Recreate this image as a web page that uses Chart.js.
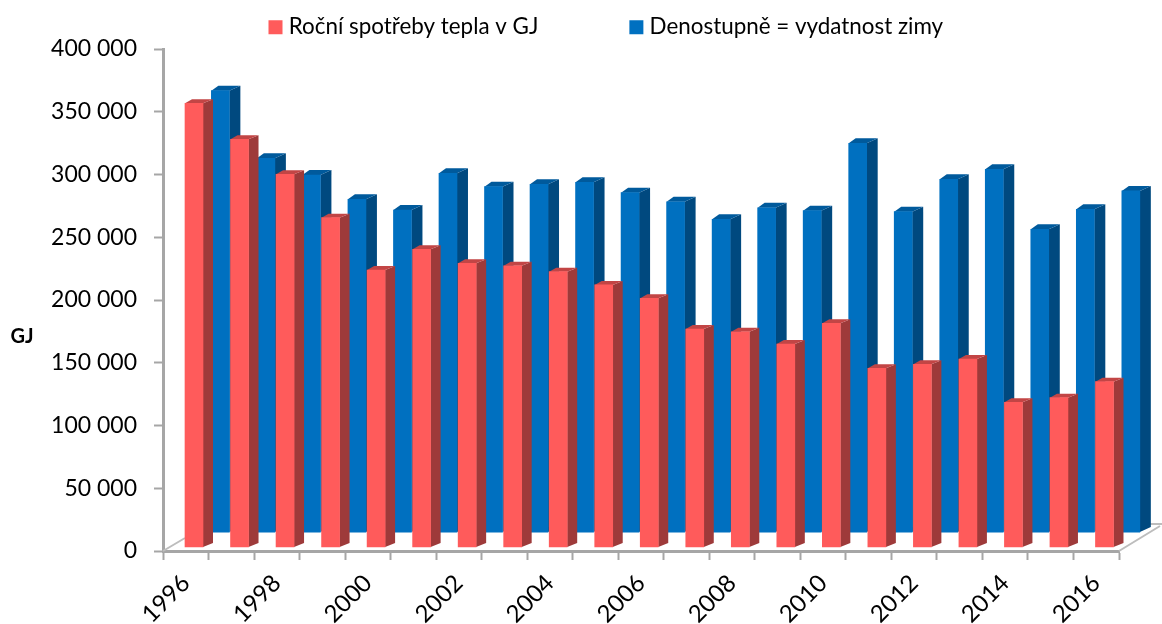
<!DOCTYPE html>
<html>
<head>
<meta charset="utf-8">
<style>body{margin:0;background:#fff}canvas{display:block}</style>
<script src="https://cdn.jsdelivr.net/npm/chart.js@4/dist/chart.umd.min.js"></script>
</head>
<body>
<canvas id="c" width="1162" height="624"></canvas>
<script>
const years = [1996,1997,1998,1999,2000,2001,2002,2003,2004,2005,2006,2007,2008,2009,2010,2011,2012,2013,2014,2015,2016];
const spotreba = [356700,328000,300200,265600,223900,240400,229200,227300,222600,212000,201400,176900,174700,164900,181400,145600,148800,153000,118500,122200,134900];
const denostupne = [366800,312900,299600,280200,271700,301000,290300,292200,293800,285500,278300,264300,273500,271200,324900,270400,296200,304100,256300,272300,286900];
const nameRed = 'Roční spotřeby tepla v GJ';
const nameBlue = 'Denostupně = vydatnost zimy';
const yTitle = 'GJ';
const gray = '#a6a6a6';

// side + top faces of the 3D bars, drawn just before the front faces of each dataset
const faces = {
	id: 'faces',
	beforeDatasetDraw(chart, args) {
		const ds = chart.data.datasets[args.index];
		const ctx = chart.ctx;
		const dx = ds.depthX, dy = ds.depthY;
		ctx.save();
		for (const bar of args.meta.data) {
			const l = bar.x - bar.width / 2, r = bar.x + bar.width / 2;
			ctx.fillStyle = ds.sideColor;
			ctx.beginPath();
			ctx.moveTo(r, bar.y);
			ctx.lineTo(r + dx, bar.y - dy);
			ctx.lineTo(r + dx, bar.base - dy);
			ctx.lineTo(r, bar.base);
			ctx.fill();
			ctx.fillStyle = ds.topColor;
			ctx.beginPath();
			ctx.moveTo(l, bar.y);
			ctx.lineTo(l + 7, bar.y - dy);
			ctx.lineTo(r + dx, bar.y - dy);
			ctx.lineTo(r, bar.y);
			ctx.fill();
		}
		ctx.restore();
	}
};

// floor edges and the horizontal axis title
const extras = {
	id: 'extras',
	beforeDatasetsDraw(chart) {
		const ctx = chart.ctx, a = chart.chartArea;
		ctx.save();
		ctx.strokeStyle = '#bdbdbd';
		ctx.lineWidth = 2;
		ctx.beginPath();
		ctx.moveTo(a.left, a.bottom);
		ctx.lineTo(a.left + 22, a.bottom - 13);
		ctx.moveTo(a.right, a.bottom);
		ctx.lineTo(a.right + 41, a.bottom - 25);
		ctx.moveTo(a.right + 31, a.bottom - 27);
		ctx.lineTo(a.right + 43, a.bottom - 27);
		ctx.stroke();
		ctx.restore();
	},
	afterDraw(chart) {
		const ctx = chart.ctx;
		ctx.save();
		ctx.fillStyle = '#000';
		ctx.font = 'bold 20px Lato';
		ctx.textAlign = 'center';
		ctx.textBaseline = 'middle';
		ctx.fillText(yTitle, 22, 337);
		ctx.restore();
	},
	afterLayout(chart) {
		// legend gap comes from labels.padding, so the box is moved back into place
		const lg = chart.legend;
		lg.left = 273.5 - lg.options.labels.padding;
		lg.right = 1162;
		lg.top = 16 - lg.options.labels.padding;
		lg.bottom = 49;
	}
};

new Chart(document.getElementById('c'), {
	type: 'bar',
	data: {
		labels: years.map(String),
		datasets: [
			{
				label: nameRed,
				data: years.map((y, i) => ({x: y, y: spotreba[i]})),
				xAxisID: 'xRed',
				backgroundColor: '#ff5b5b',
				sideColor: '#9e3a3a',
				topColor: '#c24545',
				depthX: 10,
				depthY: 4,
				base: 3200,
				grouped: false,
				barThickness: 18,
				clip: false
			},
			{
				label: nameBlue,
				data: years.map((y, i) => ({x: y, y: denostupne[i]})),
				xAxisID: 'xBlue',
				backgroundColor: '#0070c0',
				sideColor: '#00497f',
				topColor: '#005a9c',
				depthX: 11,
				depthY: 5,
				base: 15100,
				grouped: false,
				barThickness: 18,
				clip: false
			}
		]
	},
	plugins: [faces, extras],
	options: {
		responsive: false,
		animation: false,
		layout: {autoPadding: false, padding: {right: 43}},
		plugins: {
			tooltip: {enabled: false},
			legend: {
				position: 'top',
				align: 'start',
				maxHeight: 49,
				labels: {
					boxWidth: 4,
					boxHeight: 4,
					padding: 96,
					color: '#000',
					font: {family: 'Lato', size: 22.4},
					// small box with a wide stroke: gives the 14px swatch close to its text
					generateLabels(chart) {
						return Chart.defaults.plugins.legend.labels.generateLabels(chart)
							.map(l => ({...l, lineWidth: 10, strokeStyle: l.fillStyle}));
					}
				}
			}
		},
		scales: {
			x: {
				type: 'category',
				offset: true,
				afterFit(s) { s.height = 73; },
				grid: {offset: true, drawOnChartArea: false, tickLength: 9, tickColor: gray, tickWidth: 2},
				border: {color: gray, width: 3},
				ticks: {
					autoSkip: false,
					maxRotation: 45,
					minRotation: 45,
					padding: 9,
					color: '#000',
					font: {family: 'Lato', size: 24},
					callback(v, i) { return i % 2 ? '' : years[i]; }
				}
			},
			y: {
				min: 0,
				max: 400000,
				afterFit(s) { s.width = 163; },
				grid: {drawOnChartArea: false, tickLength: 9, tickColor: gray, tickWidth: 2},
				border: {color: gray, width: 3},
				ticks: {
					stepSize: 50000,
					padding: 17,
					color: '#000',
					font: {family: 'Lato', size: 23},
					callback(v) { return String(v).replace(/\B(?=(\d{3})+$)/g, ' '); }
				}
			},
			// bars sit in front of / behind the category slots, hence their own shifted scales
			xRed: {type: 'linear', display: false, offset: false, min: 1995.319, max: 2016.319},
			xBlue: {type: 'linear', display: false, offset: false, min: 1994.74, max: 2015.74}
		}
	}
});
</script>
</body>
</html>
